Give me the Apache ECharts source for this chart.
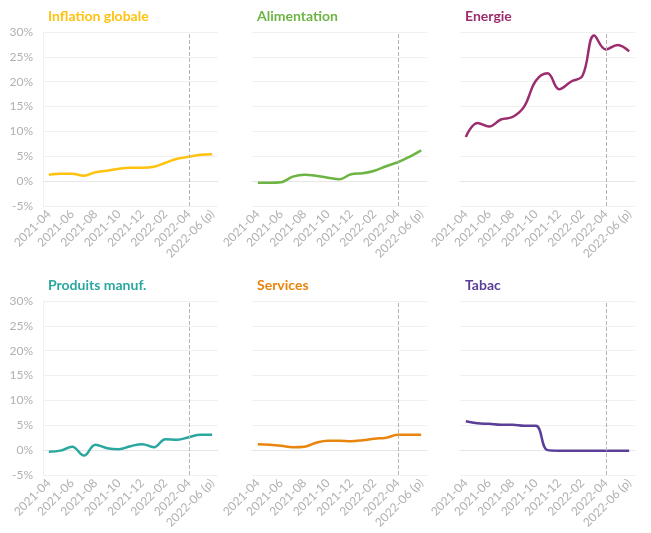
<!DOCTYPE html>
<html>
<head>
<meta charset="utf-8">
<script src="https://cdn.jsdelivr.net/npm/echarts@6/dist/echarts.min.js"></script>
<style>
  html, body { margin: 0; padding: 0; background: #fff; }
  #chart { width: 651px; height: 533px; }
</style>
</head>
<body>
<div id="chart"></div>
<script>
const months = ['2021-04', '2021-05', '2021-06', '2021-07', '2021-08', '2021-09', '2021-10', '2021-11',
  '2021-12', '2022-01', '2022-02', '2022-03', '2022-04', '2022-05', '2022-06 (p)'];

const names = ['Inflation globale', 'Alimentation', 'Energie', 'Produits manuf.', 'Services', 'Tabac'];
const colors = ['#ffc20e', '#6db443', '#9b2d6f', '#2aa79f', '#e8850c', '#5b3e98'];

const inflation = [1.3, 1.5, 1.5, 1.1, 1.8, 2.1, 2.5, 2.7, 2.7, 2.9, 3.7, 4.5, 4.9, 5.3, 5.4];
const alimentation = [-0.3, -0.3, -0.2, 0.9, 1.3, 1.1, 0.7, 0.4, 1.4, 1.6, 2.1, 3.0, 3.8, 4.9, 6.2];
const energie = [8.9, 11.7, 11.0, 12.4, 12.9, 15.0, 20.2, 21.7, 18.5, 20.0, 21.2, 29.3, 26.5, 27.4, 26.1];
const manuf = [-0.3, -0.1, 0.7, -1.1, 1.1, 0.4, 0.2, 0.8, 1.2, 0.6, 2.2, 2.1, 2.6, 3.1, 3.1];
const services = [1.2, 1.1, 0.9, 0.6, 0.7, 1.5, 1.9, 1.9, 1.8, 2.0, 2.3, 2.5, 3.1, 3.1, 3.1];
const tabac = [5.8, 5.4, 5.3, 5.1, 5.1, 4.9, 4.9, 0.0, -0.1, -0.1, -0.1, -0.1, -0.1, -0.1, -0.1];

const seriesData = [inflation, alimentation, energie, manuf, services, tabac];
const markMonth = '2022-04';

const lefts = [43, 252, 460];
const tops = [32, 301];
const gw = 175, gh = 174;

const chart = echarts.init(document.getElementById('chart'));

let grids = [], xAxes = [], yAxes = [], series = [], titles = [];
for (let i = 0; i < 6; i++) {
  const col = i % 3, row = Math.floor(i / 3);
  grids.push({ left: lefts[col], top: tops[row], width: gw, height: gh });
  titles.push({
    text: names[i], left: lefts[col], top: tops[row] - 28,
    textStyle: { color: colors[i], fontFamily: 'Lato', fontWeight: 'bold', fontSize: 14 }
  });
  xAxes.push({
    type: 'category', gridIndex: i, data: months,
    axisLine: { lineStyle: { color: '#e6e6e6' } },
    axisTick: { alignWithLabel: true, interval: 0, length: 4, lineStyle: { color: '#e6e6e6' } },
    axisLabel: { rotate: 45, interval: 1, color: '#b0b0b0', fontFamily: 'Lato', fontSize: 12, margin: 6 },
    splitLine: { show: false }
  });
  yAxes.push({
    type: 'value', gridIndex: i, min: -5, max: 30, interval: 5,
    axisLine: { show: col === 0, lineStyle: { color: '#f0f0f0' } },
    axisTick: { show: false },
    axisLabel: { show: col === 0, formatter: '{value}%', color: '#b0b0b0', fontFamily: 'Lato', fontSize: 12, margin: 10 },
    splitLine: { lineStyle: { color: '#f0f0f0' } }
  });
  series.push({
    type: 'line', xAxisIndex: i, yAxisIndex: i, data: seriesData[i],
    smooth: 0.4, symbol: 'none',
    lineStyle: { color: colors[i], width: 2.5 },
    markLine: {
      silent: true, symbol: 'none', label: { show: false },
      lineStyle: { color: '#b5b5b5', type: 'dashed', width: 1 },
      data: [{ xAxis: markMonth }]
    }
  });
}

chart.setOption({
  backgroundColor: '#fff',
  animation: false,
  title: titles,
  grid: grids,
  xAxis: xAxes,
  yAxis: yAxes,
  series: series
});
</script>
</body>
</html>
